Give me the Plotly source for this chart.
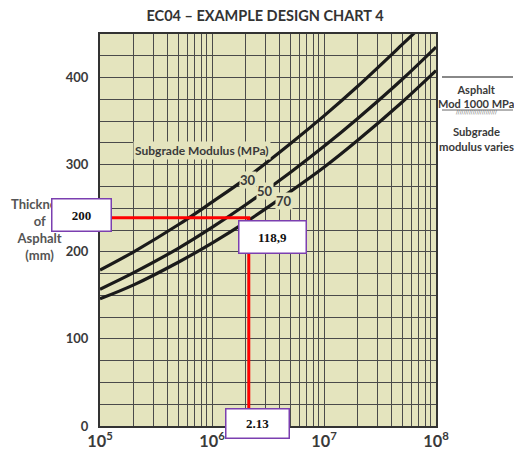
import plotly.graph_objects as go

# ---- data ----
load_x = [1e5, 2e5, 5e5, 1e6, 2e6, 5e6, 1e7, 2e7, 5e7, 6.5e7, 1e8]
thick_30 = [179, 200, 231, 257, 284, 324, 356, 390, 438, 452, None]
thick_50 = [157, 176, 204, 228, 254, 291, 321, 353, 398, None, 435]
thick_70 = [146, 162, 188, 210, 234, 269, 297, 328, 372, None, 408]
curve_names = ["30", "50", "70"]

red_x = [1e5, 2.13e6, 2.13e6]
red_y = [239, 239, 0]

box_texts = ["200", "118,9", "2.13"]

# page body has an 8px margin on every side; keep the figure inside the window
OFF = 8
W, H = 522 - 2 * OFF, 459 - 2 * OFF
PL, PR, PT, PB = 100, 436, 34, 426          # plot area in reference (page) pixels
L, T = PL - OFF, PT - OFF
R, B = W - (PR - OFF), H - (PB - OFF)
pw, ph = PR - PL, PB - PT


def px(x):
    return (x - PL) / pw


def py(y):
    return (PB - y) / ph


BG = "#E4E4BE"
GRID = "#4a4a4a"
FONT = "Lato, Roboto, sans-serif"
TXT = "#3a3a3a"

fig = go.Figure()
for name, ys in zip(curve_names, [thick_30, thick_50, thick_70]):
    pts = [(x, y) for x, y in zip(load_x, ys) if y is not None]
    fig.add_trace(go.Scatter(x=[p[0] for p in pts], y=[p[1] for p in pts],
                             mode="lines", line=dict(color="#1a1a1a", width=3.2, shape="spline"),
                             name=name, showlegend=False, hoverinfo="skip"))

fig.add_trace(go.Scatter(x=red_x, y=red_y, mode="lines",
                         line=dict(color="#ff0000", width=3), showlegend=False))

fig.update_layout(
    width=W, height=H, margin=dict(l=L, r=R, t=T, b=B, autoexpand=False),
    paper_bgcolor="white", plot_bgcolor=BG,
    title=dict(text="<b>EC04 – EXAMPLE DESIGN CHART 4</b>", x=(265 - OFF) / W, xanchor="center",
               y=1 - (16 - OFF) / H, yanchor="middle", font=dict(family=FONT, size=14.5, color="#333")),
    xaxis=dict(type="log", range=[5, 8], dtick=1, exponentformat="power", automargin=False,
               showgrid=True, gridcolor=GRID, gridwidth=1.3,
               minor=dict(dtick="D1", showgrid=True, gridcolor=GRID, gridwidth=1.3),
               showline=True, linecolor="#333", linewidth=2, mirror=True,
               ticks="", tickfont=dict(family=FONT, size=13, color=TXT, weight="bold"),
               zeroline=False),
    yaxis=dict(range=[0, 450], dtick=100, tick0=0, automargin=False,
               showgrid=True, gridcolor=GRID, gridwidth=1.3,
               minor=dict(dtick=25, showgrid=True, gridcolor=GRID, gridwidth=1.3),
               showline=True, linecolor="#333", linewidth=2, mirror=True,
               ticks="", ticklabelstandoff=7,
               tickfont=dict(family=FONT, size=13, color=TXT, weight="bold"),
               zeroline=False),
)


def label(x, y, text, **kw):
    d = dict(xref="paper", yref="paper", x=px(x), y=py(y), xanchor="center", yanchor="middle",
             text=text, showarrow=False, align="center")
    d.update(kw)
    return d


ann = []
# y title (partially hidden by box)
ann.append(label(40, 229, "<b>Thickness<br>of<br>Asphalt<br>(mm)</b>",
                 font=dict(family=FONT, size=13, color="#555")))
# in-plot labels
ann.append(label(202, 150, "<b>Subgrade Modulus (MPa)</b>", bgcolor=BG, borderpad=1,
                 font=dict(family=FONT, size=12, color=TXT)))
for name, (cx, cy) in zip(curve_names, [(248, 180), (265, 191), (284, 201)]):
    ann.append(label(cx, cy, "<b>%s</b>" % name, bgcolor=BG, borderpad=0,
                     font=dict(family=FONT, size=13, color=TXT)))
# right legend
ann.append(label(476, 96, "<b>Asphalt<br>Mod 1000 MPa</b>", font=dict(family=FONT, size=11, color=TXT)))
ann.append(label(476, 112, "/" * 22, font=dict(family="DejaVu Sans", size=5.5, color="#666")))
ann.append(label(476, 139, "<b>Subgrade<br>modulus varies</b>", font=dict(family=FONT, size=11.3, color=TXT)))
# boxes
for text, (cx, cy, bw, bh) in zip(box_texts, [(81, 214.5, 62, 35), (272, 236.5, 70, 35), (257, 423, 66, 32)]):
    ann.append(label(cx, cy, "<b>%s</b>" % text, width=bw - 4, height=bh - 4,
                     bgcolor="white", bordercolor="#7B3FB0", borderwidth=1.5, borderpad=0,
                     font=dict(family="Liberation Serif, Times New Roman, serif", size=13, color="#111")))
fig.update_layout(annotations=ann)

fig.add_shape(type="line", xref="paper", yref="paper", x0=px(442), x1=px(513), y0=py(77), y1=py(77),
              line=dict(color="#888", width=2))
fig.add_shape(type="line", xref="paper", yref="paper", x0=px(442), x1=px(513), y0=py(110), y1=py(110),
              line=dict(color="#666", width=1))

fig.write_html("out.html")
